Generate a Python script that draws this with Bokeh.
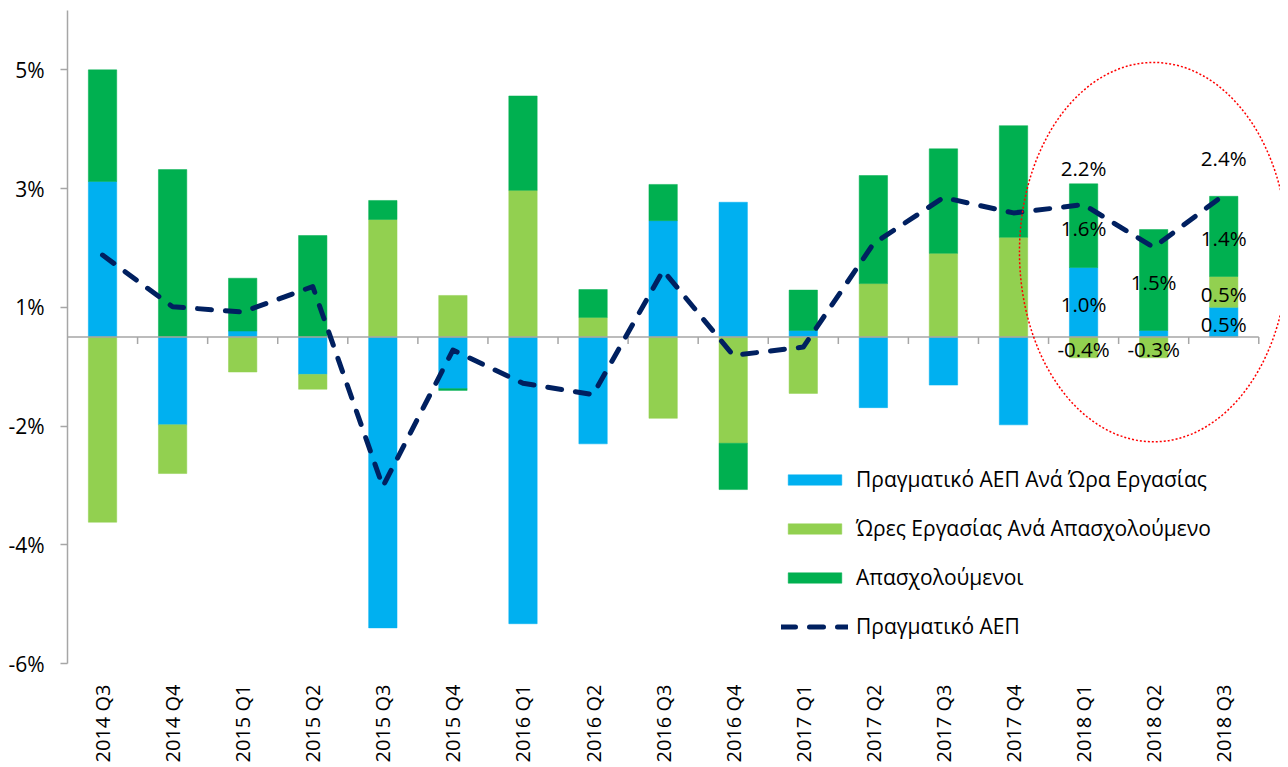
import math
from bokeh.plotting import figure
from bokeh.models import Range1d, FixedTicker, Legend, LegendItem, ColumnDataSource
from bokeh.core.properties import value
from bokeh.embed import file_html
from bokeh.resources import INLINE

# ---------------- data ----------------
quarters = ["2014 Q3", "2014 Q4", "2015 Q1", "2015 Q2", "2015 Q3", "2015 Q4",
            "2016 Q1", "2016 Q2", "2016 Q3", "2016 Q4", "2017 Q1", "2017 Q2",
            "2017 Q3", "2017 Q4", "2018 Q1", "2018 Q2", "2018 Q3"]

gdp_per_hour = [2.62, -1.48, 0.10, -0.63, -4.90, -0.87, -4.83, -1.80, 1.96,
                2.27, 0.11, -1.19, -0.81, -1.48, 1.17, 0.11, 0.50]
hours_per_employed = [-3.12, -0.82, -0.59, -0.25, 1.98, 0.70, 2.47, 0.33, -1.37,
                      -1.79, -0.95, 0.90, 1.41, 1.68, -0.35, -0.35, 0.52]
employed = [1.88, 2.82, 0.89, 1.71, 0.32, -0.03, 1.59, 0.47, 0.61,
            -0.78, 0.68, 1.82, 1.76, 1.88, 1.41, 1.70, 1.35]
real_gdp = [1.38, 0.51, 0.42, 0.85, -2.52, -0.22, -0.78, -0.97, 1.12,
            -0.31, -0.17, 1.57, 2.35, 2.09, 2.23, 1.51, 2.39]

series_names = ["Πραγματικό ΑΕΠ Ανά Ώρα Εργασίας",
                "Ώρες Εργασίας Ανά Απασχολούμενο",
                "Απασχολούμενοι"]
line_name = "Πραγματικό ΑΕΠ"

# data labels shown for the last three quarters
label_quarters = ["2018 Q1", "2018 Q2", "2018 Q3"]
lbl_gdp_per_hour = ["1.0%", "", "0.5%"]
lbl_hours = ["-0.4%", "-0.3%", "0.5%"]
lbl_employed = ["1.6%", "1.5%", "1.4%"]
lbl_real_gdp = ["2.2%", "", "2.4%"]

y_tick_values = [-5.5, -3.5, -1.5, 0.5, 2.5, 4.5]
y_tick_labels = ["-6%", "-4%", "-2%", "1%", "3%", "5%"]

highlight_center = "2018 Q2"

# ---------------- styling ----------------
C_BLUE = "#00B0F0"
C_LGREEN = "#92D050"
C_DGREEN = "#00B050"
C_LINE = "#002060"
C_AXIS = "#A6A6A6"
FONT = "Open Sans"
FS = "21px"
FS_X = "20px"
FS_LBL = "20.5px"

n = len(quarters)
xs = list(range(n))

p = figure(frame_width=1213, frame_height=653,
           x_range=Range1d(-0.5, 16.81), y_range=Range1d(-5.5, 5.5),
           output_backend="svg", toolbar_location=None,
           min_border_left=67, min_border_right=0,
           min_border_top=10, min_border_bottom=90)
p.grid.visible = False
p.outline_line_color = None
p.background_fill_color = "white"

# y axis
p.yaxis.ticker = FixedTicker(ticks=y_tick_values)
p.yaxis.major_label_overrides = {v: l for v, l in zip(y_tick_values, y_tick_labels)}
p.yaxis.axis_line_color = C_AXIS
p.yaxis.axis_line_width = 1.5
p.yaxis.major_tick_line_color = C_AXIS
p.yaxis.major_tick_line_width = 1.5
p.yaxis.major_tick_in = 0
p.yaxis.major_tick_out = 7
p.yaxis.minor_tick_line_color = None
p.yaxis.major_label_standoff = 16
p.yaxis.major_label_text_font = FONT
p.yaxis.major_label_text_font_size = FS
p.yaxis.major_label_text_color = "#000000"

# x axis (labels only)
p.xaxis.ticker = FixedTicker(ticks=xs)
p.xaxis.major_label_overrides = {i: q for i, q in enumerate(quarters)}
p.xaxis.major_label_orientation = math.pi / 2
p.xaxis.axis_line_color = None
p.xaxis.major_tick_line_color = None
p.xaxis.minor_tick_line_color = None
p.xaxis.major_label_standoff = 15
p.xaxis.major_label_text_font = FONT
p.xaxis.major_label_text_font_size = FS_X
p.xaxis.major_label_text_color = "#000000"

# stacked bars (positives stack up, negatives stack down)
pos = [0.0] * n
neg = [0.0] * n
bar_renderers = []
seg_centers = []
for vals, col in zip([gdp_per_hour, hours_per_employed, employed],
                     [C_BLUE, C_LGREEN, C_DGREEN]):
    bottoms, tops = [], []
    for i, v in enumerate(vals):
        if v >= 0:
            bottoms.append(pos[i]); tops.append(pos[i] + v); pos[i] += v
        else:
            bottoms.append(neg[i]); tops.append(neg[i] + v); neg[i] += v
    src = ColumnDataSource(dict(x=xs, top=tops, bottom=bottoms))
    r = p.vbar(x="x", top="top", bottom="bottom", width=0.405, source=src,
               fill_color=col, line_color=col, line_width=0.5)
    bar_renderers.append(r)
    seg_centers.append([(b + t) / 2 for b, t in zip(bottoms, tops)])

# zero line with category separator ticks
p.segment(x0=[-0.5], y0=[0], x1=[n - 0.5], y1=[0], line_color=C_AXIS, line_width=1.5)
tick_x = [i + 0.5 for i in range(n)]
tick_len = 7 * 11.0 / 653.0
p.segment(x0=tick_x, y0=[0] * n, x1=tick_x, y1=[-tick_len] * n,
          line_color=C_AXIS, line_width=1.5)

# real GDP line
line_r = p.line(x=xs, y=real_gdp, line_color=C_LINE, line_width=5,
                line_dash="14 14", line_cap="round", line_join="round")

# data labels
lab_idx = [quarters.index(q) for q in label_quarters]
lx, ly, lt = [], [], []
for s, labels in enumerate([lbl_gdp_per_hour, lbl_hours, lbl_employed]):
    for k, i in enumerate(lab_idx):
        if labels[k]:
            lx.append(i); ly.append(seg_centers[s][i]); lt.append(labels[k])
p.text(x=lx, y=ly, text=lt, y_offset=2, text_align="center", text_baseline="middle",
       text_font=value(FONT), text_font_size=FS_LBL, text_color="#000000")
gx = [i for k, i in enumerate(lab_idx) if lbl_real_gdp[k]]
gy = [real_gdp[i] for i in gx]
gt = [t for t in lbl_real_gdp if t]
p.text(x=gx, y=gy, text=gt, y_offset=-37, text_align="center", text_baseline="middle",
       text_font=value(FONT), text_font_size=FS_LBL, text_color="#000000")

# red dotted highlight ellipse
ci = quarters.index(highlight_center)
p.ellipse(x=[ci], y=[1.43], width=[3.83], height=[6.39], fill_alpha=0,
          line_color="#FF0000", line_width=1.5, line_dash="2 2")

legend = Legend(items=[LegendItem(label=series_names[0], renderers=[bar_renderers[0]]),
                       LegendItem(label=series_names[1], renderers=[bar_renderers[1]]),
                       LegendItem(label=series_names[2], renderers=[bar_renderers[2]]),
                       LegendItem(label=line_name, renderers=[line_r])],
                location=(714, 23), orientation="vertical",
                background_fill_alpha=0, border_line_alpha=0,
                glyph_width=67, glyph_height=13, label_standoff=8,
                label_height=26, spacing=21, padding=0, margin=0,
                label_text_font=FONT, label_text_font_size=FS,
                label_text_color="#000000")
p.add_layout(legend)

open("out.html", "w").write(file_html(p, INLINE))
